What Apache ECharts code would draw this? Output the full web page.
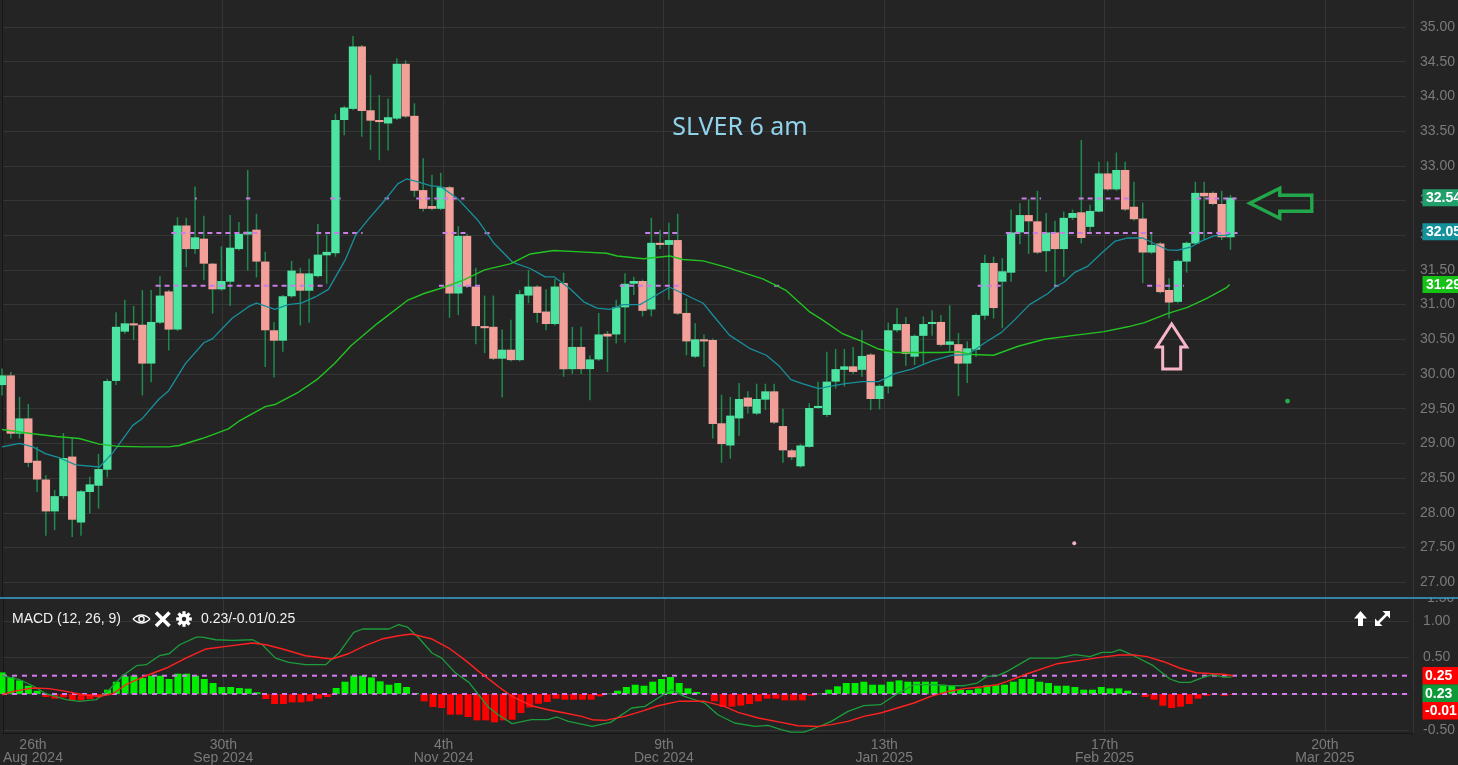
<!DOCTYPE html>
<html><head><meta charset="utf-8">
<script src="https://cdn.jsdelivr.net/npm/echarts@6.0.0/dist/echarts.min.js"></script>
<style>
html,body{margin:0;padding:0;background:#242424;overflow:hidden}
#chart{width:1458px;height:765px}
</style></head><body><div id="chart"></div>
<script>
// ---------------- data ----------------
// x-axis tick labels, one every 25 trading-day slots starting 26 Aug 2024
const tickLabels = ['26th\nAug 2024','30th\nSep 2024','4th\nNov 2024','9th\nDec 2024','13th\nJan 2025','17th\nFeb 2025','20th\nMar 2025'];

// daily candles, one per trading-day slot: [open, close, low, high]
const candles = [
[29.84,29.98,29.69,30.08],[29.98,29.14,29.07,30.03],[29.14,29.36,29.07,29.67],[29.36,28.72,28.66,29.57],[28.75,28.48,28.30,28.95],
[28.48,28.02,27.67,28.54],[28.02,28.24,27.75,28.33],[28.24,28.79,28.20,29.15],[28.81,27.90,27.65,29.08],[27.86,28.31,27.67,28.33],
[28.30,28.41,27.99,28.52],[28.39,28.63,28.06,28.85],[28.62,29.90,28.51,29.93],[29.90,30.68,29.84,30.89],[30.61,30.73,30.58,31.07],
[30.73,30.70,30.49,30.98],[30.71,30.15,29.69,31.21],[30.15,30.75,29.88,31.21],[30.74,31.13,30.72,31.41],[31.19,30.64,30.34,31.21],
[30.64,32.14,30.62,32.26],[32.14,31.80,31.54,32.25],[31.80,31.97,31.73,32.70],[31.95,31.59,31.35,32.28],[31.59,31.22,30.87,31.60],
[31.22,31.34,31.20,31.84],[31.33,31.82,30.98,32.29],[31.80,32.02,31.78,32.19],[32.01,32.05,31.49,32.94],[32.08,31.62,31.39,32.31],
[31.62,30.63,30.10,31.76],[30.63,30.48,29.95,30.75],[30.48,31.12,30.32,31.14],[31.12,31.49,31.10,31.63],[31.45,31.20,30.70,31.53],
[31.20,31.45,30.74,31.66],[31.41,31.72,31.39,32.16],[31.71,31.76,31.30,32.01],[31.74,33.66,31.69,33.75],[33.66,33.84,33.44,33.86],
[33.82,34.72,33.80,34.87],[34.72,33.79,33.42,34.74],[33.80,33.65,33.23,34.31],[33.66,33.63,33.08,34.02],[33.61,33.70,33.22,33.97],
[33.68,34.47,33.66,34.55],[34.47,33.71,33.69,34.52],[33.72,32.64,32.55,33.90],[32.65,32.38,32.34,33.11],[32.42,32.38,32.36,32.87],
[32.38,32.69,32.36,32.90],[32.69,31.16,30.81,32.71],[31.16,31.99,30.85,32.13],[31.99,31.26,31.24,32.02],[31.26,30.69,30.43,31.53],
[30.69,30.66,30.30,31.13],[30.68,30.22,30.20,31.13],[30.22,30.35,29.66,30.64],[30.35,30.20,30.18,30.78],[30.20,31.15,30.18,31.21],
[31.13,31.26,31.02,31.50],[31.26,30.88,30.74,31.28],[30.90,30.72,30.63,31.22],[30.72,31.26,30.70,31.37],[31.31,30.07,29.96,31.46],
[30.07,30.39,30.00,30.68],[30.39,30.07,30.00,30.68],[30.07,30.21,29.62,30.27],[30.21,30.57,30.19,30.88],[30.58,30.54,30.03,30.62],
[30.57,30.96,30.44,31.07],[30.96,31.30,30.45,31.45],[31.30,31.34,31.14,31.40],[31.34,30.91,30.83,31.36],[30.93,31.89,30.83,32.25],
[31.89,31.86,31.80,32.08],[31.86,31.93,31.07,32.18],[31.93,30.87,30.85,32.31],[30.88,30.47,30.27,31.09],[30.25,30.50,30.23,30.73],
[30.50,30.47,30.10,30.57],[30.49,29.28,29.07,30.51],[29.29,28.99,28.72,29.70],[28.97,29.40,28.78,29.67],[29.36,29.64,29.11,29.87],
[29.66,29.53,29.43,29.75],[29.43,29.64,29.41,29.86],[29.63,29.75,29.48,29.86],[29.75,29.30,29.28,29.86],[29.25,28.90,28.72,29.50],
[28.90,28.80,28.76,28.92],[28.67,28.97,28.65,28.99],[28.95,29.51,28.94,29.58],[29.51,29.54,29.50,29.89],[29.41,29.89,29.38,30.32],
[29.89,30.07,29.79,30.36],[30.06,30.11,29.82,30.36],[30.11,30.03,30.00,30.39],[30.06,30.26,29.96,30.63],[30.28,29.64,29.48,30.30],
[29.64,29.83,29.49,29.85],[29.82,30.63,29.72,30.74],[30.63,30.72,30.60,30.95],[30.72,30.29,30.12,30.82],[30.25,30.55,30.13,30.57],
[30.55,30.72,30.15,30.83],[30.72,30.75,30.55,30.92],[30.75,30.42,30.40,30.85],[30.42,30.47,30.32,30.99],[30.43,30.15,29.68,30.59],
[30.15,30.37,29.87,30.47],[30.35,30.85,30.25,30.87],[30.84,31.60,30.78,31.72],[31.60,30.95,30.80,31.69],[31.33,31.48,30.66,31.67],
[31.46,32.04,31.33,32.37],[32.04,32.29,31.87,32.46],[32.29,32.20,31.73,32.52],[32.20,31.75,31.73,32.64],[31.77,32.04,31.47,32.32],
[32.04,31.80,31.26,32.21],[31.80,32.25,31.40,32.34],[32.25,32.32,32.22,32.37],[32.33,31.96,31.88,33.37],[32.12,32.35,32.05,32.44],
[32.34,32.89,32.33,33.06],[32.89,32.66,32.64,33.06],[32.66,32.94,32.64,33.19],[32.94,32.37,32.35,33.06],[32.41,32.23,32.21,32.77],
[32.24,31.75,31.31,32.47],[31.75,31.86,31.73,32.03],[31.88,31.18,31.16,31.90],[31.21,31.03,30.80,31.38],[31.04,31.63,31.02,31.65],
[31.62,31.89,31.46,31.91],[31.88,32.61,31.86,32.77],[32.61,32.56,31.93,32.77],[32.61,32.45,32.43,32.63],[32.45,31.97,31.93,32.64],
[31.97,32.54,31.79,32.58]
];

// moving averages: [slot, value]
const ma20 = [[0,28.95],[2,29.0],[3.5,28.95],[5,28.85],[6.6,28.79],[8.4,28.69],[11.1,28.66],[12.6,28.86],[14.9,29.26],[16,29.36],[17.9,29.64],[19,29.76],[20.9,30.15],[23,30.45],[24,30.51],[26.2,30.80],[28.1,30.97],[29,31.02],[31.1,30.93],[32.6,31.0],[34.1,31.02],[35.7,31.11],[37.2,31.22],[39.1,31.64],[40.3,32.0],[41.7,32.22],[43.6,32.5],[45.1,32.74],[46.1,32.81],[47.4,32.77],[48.9,32.71],[50,32.70],[51.9,32.53],[54.2,32.22],[56.1,31.88],[58.2,31.61],[60.2,31.52],[61.9,31.4],[62.9,31.4],[64.8,31.22],[66.3,31.04],[67.8,30.95],[69.3,30.93],[70.8,31.0],[72.7,31.0],[74.2,31.11],[76.1,31.25],[77.6,31.16],[79.9,31.02],[81,30.85],[82.9,30.56],[85.2,30.37],[87.1,30.27],[88.6,30.11],[89.9,29.92],[91.2,29.86],[93.1,29.79],[94.6,29.83],[96.1,29.86],[98,29.89],[99.9,29.89],[101.8,30.01],[103.7,30.07],[106,30.19],[108.2,30.27],[110.1,30.28],[112,30.45],[113.9,30.6],[115.4,30.78],[117.1,31.0],[119.2,31.16],[120,31.25],[121.1,31.33],[122.2,31.46],[123.7,31.55],[125.3,31.74],[126.8,31.91],[128.3,31.96],[130,31.96],[131.3,31.88],[132.8,31.79],[133.9,31.78],[135.5,31.83],[136.6,31.91],[138.1,31.99],[139.6,32.0],[140,32.02]];
const ma50 = [[0,29.20],[3.5,29.14],[6.2,29.10],[8.8,29.07],[11.1,28.99],[13,28.96],[16,28.95],[19,28.95],[20.2,28.97],[22.8,29.07],[25.8,29.21],[27,29.32],[30,29.53],[31.1,29.56],[33.8,29.74],[36,29.93],[37.9,30.15],[39.8,30.41],[42.8,30.73],[46.2,31.06],[48.1,31.16],[50.4,31.25],[52.7,31.36],[55,31.5],[58,31.59],[60.2,31.73],[62.9,31.78],[65.9,31.76],[68.9,31.74],[70.1,31.70],[73.1,31.66],[76.1,31.70],[77.6,31.65],[79.9,31.63],[82.5,31.54],[86.7,31.37],[89.3,31.21],[92,30.90],[93.5,30.78],[95.8,30.58],[98,30.47],[99.9,30.36],[101.8,30.31],[104.1,30.31],[107.1,30.31],[109,30.32],[110.5,30.28],[113,30.27],[115.8,30.40],[118.8,30.5],[122.4,30.56],[125.6,30.61],[128.3,30.68],[130.2,30.74],[132.8,30.87],[135.1,30.96],[137.3,31.09],[139.5,31.24],[139.9,31.29]];

// MACD (12,26,9)
const macdHist = [0.295,0.232,0.186,0.113,0.045,-0.041,-0.064,-0.046,-0.087,-0.087,-0.068,-0.046,0.059,0.168,0.241,0.25,0.218,0.25,0.25,0.205,
0.277,0.277,0.25,0.205,0.15,0.096,0.096,0.082,0.073,0.023,-0.068,-0.137,-0.137,-0.114,-0.114,-0.1,-0.064,-0.041,0.082,0.168,
0.25,0.25,0.227,0.173,0.127,0.15,0.096,0.014,-0.1,-0.178,-0.191,-0.282,-0.282,-0.314,-0.36,-0.36,-0.387,-0.36,-0.351,-0.26,
-0.183,-0.133,-0.11,-0.064,-0.078,-0.078,-0.078,-0.078,-0.032,0.005,0.045,0.096,0.127,0.113,0.168,0.205,0.232,0.15,0.077,0.027,
0.005,-0.1,-0.178,-0.173,-0.16,-0.137,-0.1,-0.064,-0.064,-0.087,-0.087,-0.087,-0.023,0.005,0.059,0.105,0.15,0.15,0.168,0.127,
0.127,0.168,0.186,0.168,0.168,0.168,0.168,0.127,0.113,0.059,0.055,0.077,0.12,0.12,0.127,0.168,0.205,0.205,0.168,0.15,
0.113,0.113,0.096,0.059,0.059,0.096,0.077,0.077,0.045,0.005,-0.041,-0.078,-0.16,-0.191,-0.173,-0.137,-0.064,-0.023,0.0,-0.023,-0.01];
const macdLine = [[0,0.25],[2,0.195],[3.5,0.113],[5,0.004],[7.3,-0.078],[8.8,-0.10],[10.7,-0.078],[12.2,0.059],[13.7,0.25],[15.3,0.387],[16.4,0.40],[17.9,0.523],[19,0.55],[20.2,0.673],[22.1,0.778],[22.8,0.778],[24.3,0.741],[26.2,0.732],[28.5,0.741],[29.6,0.673],[31.1,0.49],[32.6,0.432],[34.5,0.40],[36.8,0.40],[38.3,0.56],[40,0.842],[41,0.888],[44,0.888],[45.1,0.947],[46.1,0.915],[47.4,0.765],[48.9,0.56],[50,0.49],[51.5,0.295],[53.1,0.159],[54.2,-0.01],[55.3,-0.178],[56.5,-0.29],[58,-0.405],[60.2,-0.351],[62.1,-0.351],[63.1,-0.314],[64.4,-0.374],[67.1,-0.443],[69.2,-0.388],[71.6,-0.191],[73.1,-0.169],[74.6,-0.055],[76.1,0.059],[77.6,-0.032],[79.9,-0.123],[81.4,-0.283],[83.3,-0.396],[85.6,-0.443],[87.1,-0.43],[88.6,-0.488],[89.7,-0.52],[91.2,-0.52],[92.8,-0.451],[94.3,-0.374],[96.2,-0.237],[98,-0.16],[99.9,-0.146],[101.8,0.004],[103.7,0.127],[105.6,0.127],[107.5,0.115],[109.4,0.113],[110.9,0.15],[112,0.241],[113.2,0.25],[114.3,0.309],[116.9,0.49],[118.8,0.49],[120,0.49],[122,0.537],[123.7,0.51],[125.1,0.568],[126.2,0.568],[127.1,0.605],[128.7,0.523],[130.9,0.387],[132.8,0.205],[133.9,0.159],[135.1,0.159],[136.6,0.227],[137.7,0.264],[138.9,0.232],[139.8,0.23]];
const signalLine = [[0,-0.01],[1.3,0.036],[3.5,0.082],[5.4,0.073],[7.3,0.036],[9.2,-0.01],[11.1,-0.032],[12.6,0.004],[14.1,0.127],[16,0.232],[18.7,0.355],[20.9,0.49],[23.2,0.615],[25.5,0.65],[28.5,0.697],[30,0.673],[31.9,0.615],[34.5,0.523],[37.5,0.478],[39.4,0.55],[41.3,0.66],[43.2,0.751],[45.1,0.796],[46.6,0.82],[48.9,0.751],[50.8,0.628],[52.7,0.459],[54.2,0.309],[55.7,0.172],[56.5,0.096],[58,-0.032],[60.2,-0.16],[62.1,-0.215],[64,-0.26],[65.9,-0.305],[67.1,-0.351],[68.6,-0.36],[70.8,-0.305],[72.7,-0.237],[74.6,-0.16],[76.9,-0.1],[79.9,-0.1],[82.2,-0.173],[83.7,-0.251],[86,-0.328],[88.6,-0.388],[90.5,-0.433],[92.8,-0.443],[94.3,-0.419],[96.2,-0.374],[98,-0.305],[99.9,-0.26],[101.8,-0.191],[103.7,-0.123],[105.6,-0.032],[107.5,0.03],[109.4,0.073],[111.3,0.096],[113.2,0.127],[114.3,0.172],[116.6,0.277],[120,0.414],[122.6,0.459],[124.9,0.5],[127.1,0.532],[128.7,0.532],[130.2,0.51],[132.1,0.441],[133.9,0.355],[135.8,0.29],[137.7,0.277],[138.9,0.27],[140,0.25]];

// dashed price-level segments in the price pane: [level, fromSlot, toSlot]
const levelSegments = [
[32.53,22.0,22.2],[32.53,27.8,28.3],[32.53,37.4,38.6],[32.53,43.6,44.1],[32.53,47.2,52.7],[32.53,116.2,118.4],[32.53,122.7,128.7],[32.53,136.1,140.7],
[32.03,19.3,29.4],[32.03,35.8,41.1],[32.03,50.2,53.1],[32.03,55.0,55.7],[32.03,73.3,77.2],[32.03,114.4,131.1],[32.03,135.3,140.8],
[31.27,17.5,37.0],[31.27,49.8,54.8],[31.27,70.4,77.6],[31.27,88.0,89.0],[31.27,111.2,114.1],[31.27,119.9,120.4],[31.27,130.5,134.7]
];
const macdLevels = [0.25, 0];

// last-value tags
const lastPriceTags = [['32.54',32.54,'#22a06c'],['32.05',32.05,'#14929c'],['31.29',31.29,'#16c216']];
const lastMacdTags = [['0.25','#ff0000'],['0.23','#0e9a38'],['-0.01','#ff0000']];
const macdHeaderValues = '0.23/-0.01/0.25';

// annotations (slot, price)
const greenArrowTip = [142.2, 32.46];
const pinkArrowTip = [133.3, 30.72];
const greenDot = [146.5, 29.61];
const pinkDot = [122.2, 27.56];

// ---------------- chart ----------------
const BG = '#242424', GRID = '#353535', AX = '#7a7a7a', BORDER = '#161616';
const UP = '#4de3a0', DOWN = '#f2a099', WICK = '#1f8a4c';
const FONT = '"Liberation Sans", Arial, sans-serif';
const L = 2, R = 45;

const chart = echarts.init(document.getElementById('chart'), null, {renderer: 'canvas'});

function xAxisCfg(i) {
  return {
    gridIndex: i, type: 'value', min: 0, max: 160, interval: 25,
    show: i >= 2,
    axisLine: {show: i === 3, lineStyle: {color: BORDER, width: 1}},
    axisTick: {show: false},
    splitLine: {show: i >= 2, lineStyle: {color: GRID, width: 1}},
    axisLabel: i === 3 ? {
      show: true, color: AX, fontSize: 14, fontFamily: FONT, margin: 5.5, lineHeight: 13,
      alignMinLabel: 'left', showMaxLabel: false,
      formatter: function (v) {
        if (Math.abs(v % 25) > 1e-6) return '';
        const t = tickLabels[Math.round(v / 25)];
        if (!t) return '';
        const p = t.split('\n');
        return '{a|' + p[0] + '}\n{a|' + p[1] + '}';
      },
      rich: {a: {align: 'center', fontSize: 14, lineHeight: 13, color: AX, fontFamily: FONT}}
    } : {show: false}
  };
}

const option = {
  backgroundColor: BG,
  animation: false,
  grid: [
    {left: L, right: R, top: 27, height: 555.2},
    {left: L, right: R, top: 620.8, height: 109.8},
    {left: L, right: R, top: 0, height: 597},
    {left: L, right: R, top: 598, height: 135}
  ],
  xAxis: [0, 1, 2, 3].map(xAxisCfg),
  yAxis: [
    {gridIndex: 0, type: 'value', position: 'right', min: 27, max: 35, interval: 0.5,
     axisLine: {show: false}, axisTick: {show: false},
     splitLine: {lineStyle: {color: GRID}},
     axisLabel: {color: AX, fontSize: 14, fontFamily: FONT, margin: 14, formatter: v => v.toFixed(2)}},
    {gridIndex: 1, type: 'value', position: 'right', min: -0.5, max: 1, interval: 0.5,
     axisLine: {show: false}, axisTick: {show: false},
     splitLine: {lineStyle: {color: GRID}},
     axisLabel: {color: AX, fontSize: 14, fontFamily: FONT, margin: 14, formatter: v => Math.abs(v) < 1e-9 ? '' : v.toFixed(2)}},
    {gridIndex: 2, type: 'value', position: 'right', min: 0, max: 1,
     axisLine: {show: true, lineStyle: {color: BORDER}}, axisTick: {show: false}, axisLabel: {show: false}, splitLine: {show: false}},
    {gridIndex: 3, type: 'value', position: 'right', min: 0, max: 1,
     axisLine: {show: true, lineStyle: {color: BORDER}}, axisTick: {show: false}, axisLabel: {show: false}, splitLine: {show: false}}
  ],
  series: [
    {
      type: 'custom', name: 'candles', xAxisIndex: 0, yAxisIndex: 0, clip: false, z: 2,
      data: candles.map((c, i) => [i, c[0], c[1], c[2], c[3]]),
      encode: {x: 0, y: [1, 2, 3, 4]},
      renderItem: function (params, api) {
        const x = api.value(0), o = api.value(1), c = api.value(2), lo = api.value(3), hi = api.value(4);
        const pO = api.coord([x, o]), pC = api.coord([x, c]), pL = api.coord([x, lo]), pH = api.coord([x, hi]);
        const w = api.size([1, 0])[0] * 0.95;
        const top = Math.min(pO[1], pC[1]), bot = Math.max(pO[1], pC[1]);
        return {type: 'group', children: [
          {type: 'line', shape: {x1: pH[0], y1: pH[1], x2: pL[0], y2: pL[1]}, style: {stroke: WICK, lineWidth: 1.5}},
          {type: 'rect', shape: {x: pO[0] - w / 2, y: top, width: w, height: Math.max(bot - top, 1.5)},
           style: {fill: c >= o ? UP : DOWN}}
        ]};
      }
    },
    {
      type: 'custom', name: 'levels', xAxisIndex: 0, yAxisIndex: 0, z: 3,
      data: levelSegments, encode: {x: [1, 2], y: 0},
      renderItem: function (params, api) {
        const v = api.value(0), a = api.coord([api.value(1), v]), b = api.coord([api.value(2), v]);
        return {type: 'line', shape: {x1: a[0], y1: a[1], x2: b[0], y2: b[1]},
                style: {stroke: '#c87ee4', lineWidth: 2, lineDash: [5, 4]}};
      }
    },
    {type: 'line', name: 'MA20', xAxisIndex: 0, yAxisIndex: 0, data: ma20, showSymbol: false, z: 4,
     lineStyle: {color: '#17909c', width: 1.3}},
    {type: 'line', name: 'MA50', xAxisIndex: 0, yAxisIndex: 0, data: ma50, showSymbol: false, z: 4,
     lineStyle: {color: '#22c322', width: 1.4}},
    {
      type: 'custom', name: 'hist', xAxisIndex: 1, yAxisIndex: 1, z: 2,
      data: macdHist.map((v, i) => [i, v]), encode: {x: 0, y: 1},
      renderItem: function (params, api) {
        const x = api.value(0), v = api.value(1);
        const p0 = api.coord([x, 0]), p1 = api.coord([x, v]);
        const w = 7;
        return {type: 'rect', shape: {x: p0[0] - w / 2, y: Math.min(p0[1], p1[1]), width: w, height: Math.abs(p1[1] - p0[1])},
                style: {fill: v >= 0 ? '#00ee00' : '#ff0000'}};
      }
    },
    ...macdLevels.map(v => ({type: 'line', xAxisIndex: 1, yAxisIndex: 1, data: [[0, v], [160, v]], showSymbol: false, z: 3,
      lineStyle: {color: '#d67af2', width: 2, type: [5, 5]}})),
    {type: 'line', name: 'MACD', xAxisIndex: 1, yAxisIndex: 1, data: macdLine, showSymbol: false, clip: false, z: 4,
     lineStyle: {color: '#1c9c3a', width: 1.3}},
    {type: 'line', name: 'Signal', xAxisIndex: 1, yAxisIndex: 1, data: signalLine, showSymbol: false, clip: false, z: 4,
     lineStyle: {color: '#ff2020', width: 1.4}}
  ]
};
chart.setOption(option);

// ---------------- overlay graphics ----------------
const P = (s, v) => chart.convertToPixel({gridIndex: 0}, [s, v]);
const yP = v => chart.convertToPixel({yAxisIndex: 0}, v);
const yM = v => chart.convertToPixel({yAxisIndex: 1}, v);
const g = [];
function txt(x, y, s, fill, font, align) {
  g.push({type: 'text', x: x, y: y, z: 140,
    style: {text: s, fill: fill, font: font, textAlign: align || 'left', textVerticalAlign: 'middle'}});
}
// title
txt(740, 127.5, 'SLVER 6 am', '#90d2ea', '25px "Noto Sans", "Open Sans", sans-serif', 'center');
// partially hidden "1.50" label of the MACD axis
txt(1427, 598.5, '1.50', AX, '14px ' + FONT);
g.push({type: 'rect', z: 141, shape: {x: 1414, y: 589, width: 44, height: 8.5}, style: {fill: BG}});
// pane separator
g.push({type: 'line', z: 142, shape: {x1: 0, y1: 598, x2: 1458, y2: 598}, style: {stroke: '#3aa3d0', lineWidth: 1.5}});
// price tags
lastPriceTags.forEach(t => {
  const y = yP(t[1]);
  g.push({type: 'rect', z: 130, shape: {x: 1422.5, y: y - 8.5, width: 36, height: 17}, style: {fill: t[2]}});
  txt(1426, y + 0.5, t[0], '#ffffff', 'bold 14px ' + FONT);
});
// MACD tags (stacked)
const ySig = yM(macdLevels[0]);
lastMacdTags.forEach((t, k) => {
  const y = ySig + k * 17.5;
  g.push({type: 'rect', z: 130, shape: {x: 1422.5, y: y - 8.7, width: 36, height: 17.5}, style: {fill: t[1]}});
  txt(1425, y + 0.5, t[0], '#ffffff', 'bold 14px ' + FONT);
});
// MACD header
txt(12, 619, 'MACD (12, 26, 9)', '#f2f2f2', '14px ' + FONT);
g.push({type: 'bezierCurve', z: 140, shape: {x1: 133, y1: 619, x2: 150, y2: 619, cpx1: 141.5, cpy1: 611}, style: {stroke: '#ffffff', fill: null, lineWidth: 1.4}});
g.push({type: 'bezierCurve', z: 140, shape: {x1: 133, y1: 619, x2: 150, y2: 619, cpx1: 141.5, cpy1: 627}, style: {stroke: '#ffffff', fill: null, lineWidth: 1.4}});
g.push({type: 'circle', z: 140, shape: {cx: 141.5, cy: 619, r: 2.6}, style: {stroke: '#ffffff', fill: null, lineWidth: 1.4}});
g.push({type: 'line', z: 140, shape: {x1: 156, y1: 612.5, x2: 169.5, y2: 626}, style: {stroke: '#ffffff', lineWidth: 3.6}});
g.push({type: 'line', z: 140, shape: {x1: 169.5, y1: 612.5, x2: 156, y2: 626}, style: {stroke: '#ffffff', lineWidth: 3.6}});
for (let k = 0; k < 8; k++) {
  const a = k * Math.PI / 4;
  g.push({type: 'line', z: 140, shape: {x1: 184 + 4 * Math.cos(a), y1: 619 + 4 * Math.sin(a), x2: 184 + 7.8 * Math.cos(a), y2: 619 + 7.8 * Math.sin(a)},
          style: {stroke: '#ffffff', lineWidth: 3.2}});
}
g.push({type: 'circle', z: 140, shape: {cx: 184, cy: 619, r: 5.5}, style: {fill: '#ffffff'}});
g.push({type: 'circle', z: 141, shape: {cx: 184, cy: 619, r: 2.2}, style: {fill: BG}});
txt(201, 619, macdHeaderValues, '#f2f2f2', '14px ' + FONT);
// top-right pane icons
g.push({type: 'polygon', z: 140, shape: {points: [[1360.5, 611], [1367, 618.5], [1363, 618.5], [1363, 626], [1358, 626], [1358, 618.5], [1354, 618.5]]}, style: {fill: '#ffffff'}});
g.push({type: 'line', z: 140, shape: {x1: 1378, y1: 623, x2: 1387, y2: 614}, style: {stroke: '#ffffff', lineWidth: 2.5}});
g.push({type: 'polygon', z: 140, shape: {points: [[1390, 611], [1390, 618.5], [1382.5, 611]]}, style: {fill: '#ffffff'}});
g.push({type: 'polygon', z: 140, shape: {points: [[1375, 626], [1375, 618.5], [1382.5, 626]]}, style: {fill: '#ffffff'}});
// annotation arrows
const ga = P(greenArrowTip[0], greenArrowTip[1]);
g.push({type: 'polygon', z: 135, shape: {points: [[0, 0], [30, -15], [30, -8], [62, -8], [62, 8], [30, 8], [30, 15]].map(p => [ga[0] + p[0], ga[1] + p[1]])},
        style: {fill: null, stroke: '#22a84a', lineWidth: 3.4}});
const pa = P(pinkArrowTip[0], pinkArrowTip[1]);
g.push({type: 'polygon', z: 135, shape: {points: [[0, 0], [15, 23], [9, 23], [9, 45], [-9, 45], [-9, 23], [-15, 23]].map(p => [pa[0] + p[0], pa[1] + p[1]])},
        style: {fill: null, stroke: '#f7b6c8', lineWidth: 3}});
const gd = P(greenDot[0], greenDot[1]);
g.push({type: 'circle', z: 135, shape: {cx: gd[0], cy: gd[1], r: 2.4}, style: {fill: '#22b04a'}});
const pd = P(pinkDot[0], pinkDot[1]);
g.push({type: 'circle', z: 135, shape: {cx: pd[0], cy: pd[1], r: 2}, style: {fill: '#f2b4c4'}});

chart.setOption({graphic: {elements: g}});
</script></body></html>
